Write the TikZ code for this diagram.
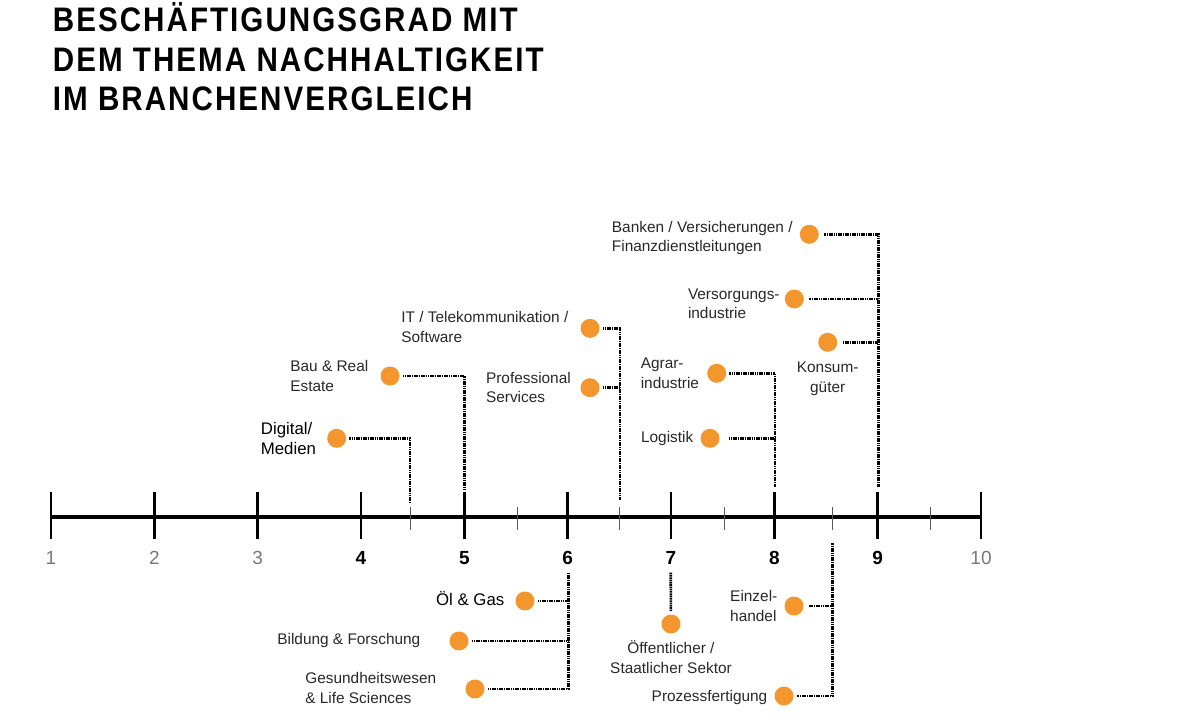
\documentclass[tikz,border=0pt]{standalone}
\usepackage{fontspec}
\setmainfont{Liberation Sans}
\newfontfamily\titlefont{Liberation Sans}[FakeStretch=0.87,LetterSpace=6]
\usetikzlibrary{positioning}
\definecolor{dotorange}{RGB}{243,150,45}
\definecolor{lblgray}{RGB}{40,40,40}
\definecolor{tickgray}{RGB}{90,90,90}
\definecolor{numgray}{RGB}{120,120,120}
\tikzset{
    dot/.style={circle, fill=dotorange, minimum size=19pt, inner sep=0pt, outer sep=3pt},
    lbl/.style={font=\fontsize{15.4}{19.5}\selectfont, text=lblgray, align=left, inner sep=0pt},
    biglbl/.style={lbl, font=\fontsize{16.8}{20}\selectfont, text=black},
    conn/.style={line width=2.6pt, dash pattern=on 1.6pt off 0.7pt},
    axisline/.style={line width=3.6pt},
    majortick/.style={line width=2.8pt},
    minortick/.style={line width=1pt, draw=tickgray},
    num/.style={anchor=base, inner sep=0pt, font=\fontsize{19}{19}\selectfont},
    heading/.style={anchor=base west, inner sep=0pt, align=left, font=\titlefont\bfseries\fontsize{34}{39.5}\selectfont},
}
\begin{document}
\begin{tikzpicture}[x=1pt,y=-1pt]
\useasboundingbox (0,0) rectangle (1200,725);
\node[heading] (title) at (52.7,110.7) {BESCHÄFTIGUNGSGRAD MIT\\DEM THEMA NACHHALTIGKEIT\\IM BRANCHENVERGLEICH};

\coordinate (a1) at (51,517);
\coordinate (a10) at (981,517);
\draw[axisline] (a1) -- (a10);
\foreach \x in {410,517.7,619.3,724.3,832.7,930}
    \draw[minortick] (\x,507) -- (\x,530);
\foreach \n in {1,...,10}
    \draw[majortick] ({51+(\n-1)*103.333},492) -- ({51+(\n-1)*103.333},538.5);
\foreach \n in {1,2,3,10}
    \node[num, text=numgray] (n\n) at ({51+(\n-1)*103.333},564) {\n};
\foreach \n in {4,...,9}
    \node[num, font=\bfseries\fontsize{19}{19}\selectfont] (n\n) at ({51+(\n-1)*103.333},564) {\n};

\coordinate (c45) at (410,502.7);
\coordinate (c5) at (464.3,490);
\coordinate (c65) at (620,500.3);
\coordinate (c8) at (775,486.7);
\coordinate (c9) at (878.3,486.7);
\coordinate (c6) at (568.3,572.7);
\coordinate (c7) at (670.7,572.7);
\coordinate (c85) at (832.7,543.3);

\node[dot] (digital) at (336.7,438.3) {};
\node[dot] (bau) at (390,376) {};
\node[dot] (it) at (590,328.3) {};
\node[dot] (services) at (590,387.7) {};
\node[dot] (agrar) at (716.7,373.3) {};
\node[dot] (logistik) at (710,438.3) {};
\node[dot] (banken) at (809.3,234.3) {};
\node[dot] (versorgung) at (794.3,299) {};
\node[dot] (konsum) at (827.7,342.3) {};
\node[dot] (oel) at (525,601) {};
\node[dot] (bildung) at (459,641) {};
\node[dot] (gesundheit) at (475,689) {};
\node[dot] (staat) at (671,624) {};
\node[dot] (einzel) at (794,606) {};
\node[dot] (prozess) at (784,696) {};

\node[biglbl, left=8pt of digital] (digital-l) {Digital/\\Medien};
\node[lbl, left=9pt of bau] (bau-l) {Bau \& Real\\Estate};
\node[lbl, left=9pt of it, yshift=1.5pt] (it-l) {IT / Telekommunikation /\\Software};
\node[lbl, left=6.5pt of services] (services-l) {Professional\\Services};
\node[lbl, left=5pt of agrar] (agrar-l) {Agrar-\\industrie};
\node[lbl, left=4pt of logistik] (logistik-l) {Logistik};
\node[lbl, left=4pt of banken, yshift=-3.7pt] (banken-l) {Banken / Versicherungen /\\Finanzdienstleitungen};
\node[lbl, left=2pt of versorgung, yshift=-5pt] (versorgung-l) {Versorgungs-\\industrie};
\node[lbl, align=center, below=7pt of konsum] (konsum-l) {Konsum-\\güter};
\node[biglbl, left=8pt of oel, yshift=2.5pt] (oel-l) {Öl \& Gas};
\node[lbl, left=26pt of bildung] (bildung-l) {Bildung \& Forschung};
\node[lbl, left=26pt of gesundheit, yshift=1pt] (gesundheit-l) {Gesundheitswesen\\\& Life Sciences};
\node[lbl, align=center, below=4pt of staat] (staat-l) {Öffentlicher /\\Staatlicher Sektor};
\node[lbl, left=4pt of einzel] (einzel-l) {Einzel-\\handel};
\node[lbl, left=4pt of prozess, yshift=-2pt] (prozess-l) {Prozessfertigung};

\draw[conn] (digital) -- (digital -| c45) -- (c45);
\draw[conn] (bau) -- (bau -| c5) -- (c5);
\draw[conn] (it) -- (it -| c65) -- (c65);
\draw[conn] (services) -- (services -| c65);
\draw[conn] (agrar) -- (agrar -| c8) -- (c8);
\draw[conn, shorten <=6pt] (logistik) -- (logistik -| c8);
\draw[conn, shorten <=2.5pt] (banken) -- (banken -| c9) -- (c9);
\draw[conn, shorten <=2.5pt] (versorgung) -- (versorgung -| c9);
\draw[conn, shorten <=2.5pt] (konsum) -- (konsum -| c9);
\draw[conn] (c6) -- (c6 |- gesundheit) -- (gesundheit);
\draw[conn] (oel) -- (oel -| c6);
\draw[conn] (bildung) -- (bildung -| c6);
\draw[conn] (c7) -- (staat);
\draw[conn] (c85) -- (c85 |- prozess) -- (prozess);
\draw[conn, shorten <=2.5pt] (einzel) -- (einzel -| c85);
\end{tikzpicture}
\end{document}
